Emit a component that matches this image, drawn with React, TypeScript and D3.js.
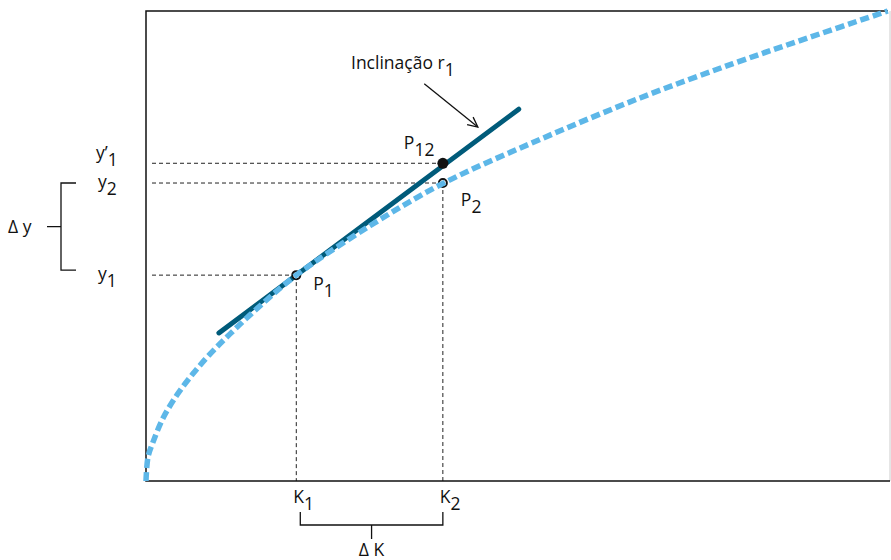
import * as d3 from "d3";

// Production curve (K, y)
const curveK = [0, 0.027, 0.09, 0.23, 0.42, 0.63, 0.86, 1.13, 1.57, 2.02, 3.01, 3.99, 5.3, 6.64, 7.89, 8.92, 9.97];
const curveY = [0, 0.51, 0.81, 1.34, 1.84, 2.28, 2.7, 3.13, 3.78, 4.38, 5.43, 6.33, 7.27, 8.15, 8.88, 9.44, 10.0];

// Tangent (slope r1) end points
const tangentK = [0.98, 5.01];
const tangentY = [3.15, 7.91];

// Marked points: P1, P2, P12
const pointK = [2.02, 3.99, 3.99];
const pointY = [4.38, 6.34, 6.76];

// Axis labels
const kLabels = ["1", "2"];
const kValues = [2.02, 3.99];
const yLabels = ["y’", "y", "y"];
const ySubs = ["1", "2", "1"];
const yValues = [6.76, 6.34, 4.38];
const yPointIndex = [2, 1, 0];

// Annotation arrow
const arrowK = [3.74, 4.46];
const arrowY = [8.45, 7.53];

const W = 891;
const H = 560;
const font = "'Open Sans', 'Noto Sans', sans-serif";
const fs = 17.5;

export default function App() {
  const x = d3.scaleLinear().domain([0, 10]).range([146, 890]);
  const y = d3.scaleLinear().domain([0, 10]).range([481, 11]);

  const curve = d3
    .line<number>()
    .x((_, i) => x(curveK[i]))
    .y((d) => y(d))
    .curve(d3.curveCatmullRom.alpha(0.5))(curveY);

  // arrow head
  const ax1 = x(arrowK[0]), ay1 = y(arrowY[0]);
  const ax2 = x(arrowK[1]), ay2 = y(arrowY[1]);
  const ang = Math.atan2(ay2 - ay1, ax2 - ax1);
  const hl = 11;
  const head = [ang + Math.PI - 0.45, ang + Math.PI + 0.45].map((a) => [
    ax2 + hl * Math.cos(a),
    ay2 + hl * Math.sin(a),
  ]);

  const label = (main: string, sub: string, px: number, py: number, key?: string) => (
    <text key={key} x={px} y={py} fontFamily={font} fontSize={fs} fill="#111">
      {main}
      <tspan dy={7}>{sub}</tspan>
    </text>
  );

  const [p1, p2, p12] = [0, 1, 2].map((i) => [x(pointK[i]), y(pointY[i])]);
  const kMid = (x(kValues[0]) + 4 + x(kValues[1])) / 2;
  const yMid = (y(yValues[1]) + y(yValues[2]) - 5) / 2;

  return (
    <svg
      width={W}
      height={H}
      style={{ position: "absolute", left: 0, top: 0, background: "#fff" }}
    >
      {/* guide lines */}
      <g stroke="#222" strokeWidth={1} strokeDasharray="4,3" fill="none">
        {yValues.map((v, i) => (
          <line key={"h" + i} x1={152} x2={x(pointK[yPointIndex[i]])} y1={y(v)} y2={y(v)} />
        ))}
        {kValues.map((v, i) => (
          <line key={"v" + i} x1={x(v)} x2={x(v)} y1={y(pointY[i])} y2={y(0)} />
        ))}
      </g>

      {/* frame */}
      <line x1={x(10)} x2={x(10)} y1={y(10)} y2={y(0)} stroke="#ccc" strokeWidth={1} />
      <path
        d={`M${x(10) - 2},${y(10)}H${x(0)}V${y(0)}H${x(10)}`}
        fill="none"
        stroke="#111"
        strokeWidth={1.5}
      />

      {/* tangent */}
      <line
        x1={x(tangentK[0])}
        y1={y(tangentY[0])}
        x2={x(tangentK[1])}
        y2={y(tangentY[1])}
        stroke="#005b7a"
        strokeWidth={5}
        strokeLinecap="round"
      />

      <circle cx={p1[0]} cy={p1[1]} r={4} fill="#fff" stroke="#111" strokeWidth={2} />
      <circle cx={p2[0]} cy={p2[1]} r={4} fill="#fff" stroke="#111" strokeWidth={2} />

      {/* production curve */}
      <path
        d={curve ?? ""}
        fill="none"
        stroke="#5db7e8"
        strokeWidth={5.5}
        strokeDasharray="9,4"
      />

      <circle cx={p12[0]} cy={p12[1]} r={5.5} fill="#111" />

      {/* arrow */}
      <g stroke="#111" strokeWidth={1.3} fill="none">
        <line x1={ax1} y1={ay1} x2={ax2} y2={ay2} />
        <polyline points={`${head[0][0]},${head[0][1]} ${ax2},${ay2} ${head[1][0]},${head[1][1]}`} />
      </g>
      {label("Inclinação r", "1", 351, 69)}

      {/* point labels */}
      {label("P", "1", p1[0] + 17, p1[1] + 15)}
      {label("P", "2", p2[0] + 18, p2[1] + 23)}
      {label("P", "12", p12[0] - 39, p12[1] - 14)}

      {/* K axis labels */}
      {kLabels.map((s, i) => label("K", s, x(kValues[i]) - 3, 503, "k" + i))}
      <path
        d={`M${x(kValues[0]) + 4},512V525H${x(kValues[1])}V512M${kMid},525V539`}
        fill="none"
        stroke="#111"
        strokeWidth={1.3}
      />
      <text x={kMid} y={556} textAnchor="middle" fontFamily={font} fontSize={fs} fill="#111">
        Δ K
      </text>

      {/* y axis labels */}
      {yLabels.map((s, i) =>
        label(s, ySubs[i], i === 0 ? 96 : 98, y(yValues[i]) + (i === 0 ? -4 : 5), "y" + i)
      )}
      <path
        d={`M76,${y(yValues[1])}H61V${y(yValues[2]) - 5}H76M61,${yMid}H47`}
        fill="none"
        stroke="#111"
        strokeWidth={1.3}
      />
      <text x={8} y={yMid + 6} fontFamily={font} fontSize={fs} fill="#111">
        Δ y
      </text>
    </svg>
  );
}
